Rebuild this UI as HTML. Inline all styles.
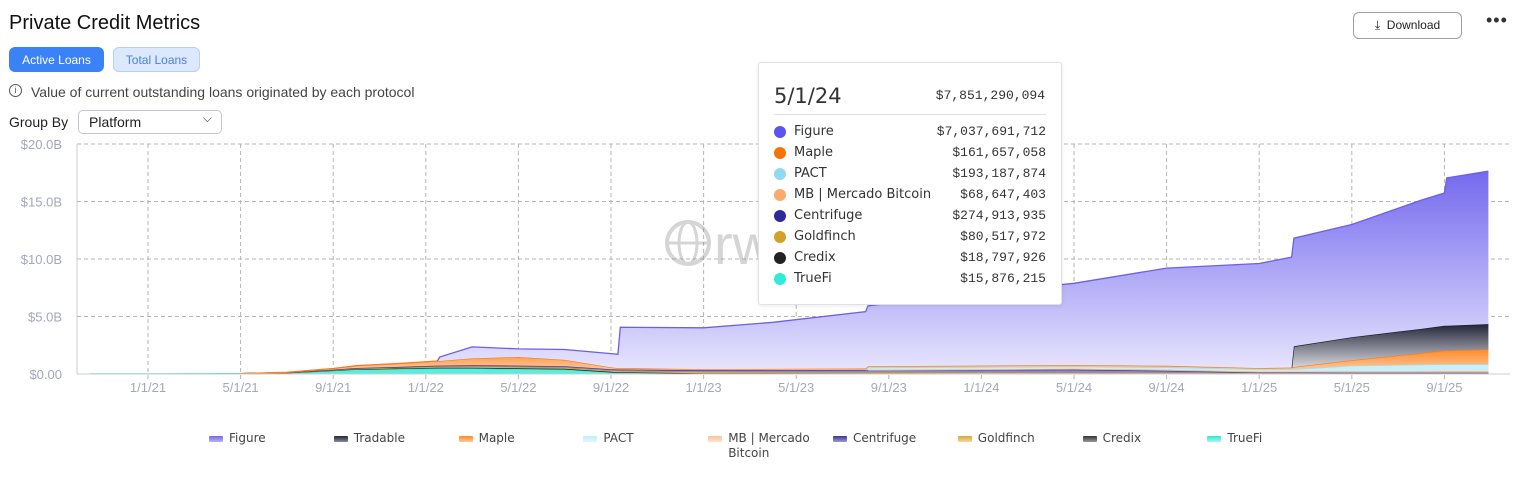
<!DOCTYPE html>
<html><head><meta charset="utf-8">
<style>
body{margin:0;width:1520px;height:484px;background:#fff;font-family:"Liberation Sans",sans-serif;position:relative;overflow:hidden}
.abs{position:absolute}
.btn{position:absolute;border-radius:6px;font-size:12px;display:flex;align-items:center;justify-content:center}
.tt-row{position:absolute;left:0;width:303px;height:21px;font-size:13px;color:#333}
.tt-dot{position:absolute;left:15px;top:4px;width:12px;height:12px;border-radius:50%}
.tt-lab{position:absolute;left:35px;top:2px;font-family:"DejaVu Sans",sans-serif;font-size:13px}
.tt-val{position:absolute;right:16px;top:2px;font-family:"Liberation Mono",monospace;font-size:13px}
.leg{position:absolute;top:431px;font-size:12px;color:#444;font-family:"DejaVu Sans",sans-serif}
.sw{position:absolute;left:0;top:5px;width:14px;height:6px;border-radius:1px}
.lt{position:absolute;left:20px;top:0;white-space:nowrap;line-height:15px}
</style></head><body>
<div class="abs" style="left:9px;top:12px;font-size:20px;color:#111">Private Credit Metrics</div>
<div class="btn" style="left:1353px;top:12px;width:107px;height:25px;border:1px solid #9aa0a8;color:#222;font-size:12px">⤓&nbsp; Download</div>
<div class="abs" style="left:1486px;top:10px;font-size:18px;color:#333;letter-spacing:1px">•••</div>
<div class="btn" style="left:9px;top:47px;width:95px;height:25px;background:#3b82f6;color:#fff">Active Loans</div>
<div class="btn" style="left:113px;top:47px;width:85px;height:23px;background:#dce8fb;border:1px solid #b9cff3;color:#4a80e2">Total Loans</div>
<div class="abs" style="left:9px;top:84px;width:11px;height:11px;border:1.3px solid #555;border-radius:50%;font-size:9px;line-height:11px;text-align:center;color:#555">i</div>
<div class="abs" style="left:31px;top:84px;font-size:14px;color:#444">Value of current outstanding loans originated by each protocol</div>
<div class="abs" style="left:9px;top:114px;font-size:14px;color:#222">Group By</div>
<div class="abs" style="left:78px;top:110px;width:142px;height:22px;border:1px solid #c5c8cf;border-radius:5px;font-size:14px;color:#222"><span style="position:absolute;left:10px;top:3px">Platform</span><span style="position:absolute;right:9px;top:0px;font-size:12px;color:#444">⌵</span></div>

<svg id="chart" class="abs" style="left:0;top:0" width="1520" height="484">
<defs>
<linearGradient id="gFig" x1="0" y1="0" x2="0" y2="1"><stop offset="0" stop-color="#7469ee"/><stop offset="1" stop-color="#e6e4fd"/></linearGradient>
<linearGradient id="gTrad" x1="0" y1="0" x2="0" y2="1"><stop offset="0" stop-color="#22253a"/><stop offset="1" stop-color="#d6d7dc"/></linearGradient>
<linearGradient id="gMap" x1="0" y1="0" x2="0" y2="1"><stop offset="0" stop-color="#ff8a2a"/><stop offset="1" stop-color="#ffd2ad"/></linearGradient>
</defs>
<g id="grid"></g>
<g id="areas"></g>
<g id="wm" opacity="0.35">
<circle cx="688" cy="243" r="21" fill="none" stroke="#888" stroke-width="4"/>
<ellipse cx="688" cy="243" rx="9" ry="21" fill="none" stroke="#888" stroke-width="3"/>
<line x1="667" y1="243" x2="709" y2="243" stroke="#888" stroke-width="3"/>
<text x="714" y="264" font-size="56" fill="#888" font-family="Liberation Sans">rwa</text>
</g>
<g id="axes"></g>
</svg>

<div class="abs" style="left:758px;top:62px;width:302px;height:241px;background:#fff;border:1px solid #dfe1e6;border-radius:3px;box-shadow:0 1px 4px rgba(0,0,0,0.08)">
<div class="abs" style="left:15px;top:21px;font-size:21px;color:#333;font-family:'DejaVu Sans',sans-serif">5/1/24</div>
<div class="abs" style="right:16px;top:25px;font-size:13px;color:#333;font-family:'Liberation Mono',monospace">$7,851,290,094</div>
<div class="abs" style="left:15px;top:51px;width:272px;height:1px;background:#dde0e8"></div>
<div id="ttrows"></div>
</div>

<div id="legend"></div>

<script>
const NS="http://www.w3.org/2000/svg";
// month index relative to Jan 2021
const months=[-2.5,0,4,6,8,9,11,12.5,12.6,14,16,18,20,20.3,20.4,24,27,31,31.1,36,40,44,48,49.4,49.5,52,55,56,56.1,57.9];
const truefi=[0.01,0.01,0.03,0.1,0.3,0.4,0.45,0.5,0.5,0.5,0.45,0.4,0.15,0.12,0.12,0.04,0.03,0.03,0.03,0.02,0.016,0.01,0.01,0.01,0.01,0.01,0.01,0.01,0.01,0.01];
const credix=[0,0,0,0.01,0.02,0.03,0.04,0.05,0.05,0.05,0.05,0.05,0.04,0.04,0.04,0.03,0.03,0.02,0.02,0.02,0.02,0.01,0.01,0.01,0.01,0.01,0.01,0.01,0.01,0.01];
const goldfinch=[0,0,0,0.01,0.03,0.04,0.06,0.08,0.08,0.09,0.1,0.1,0.1,0.1,0.1,0.1,0.1,0.09,0.09,0.08,0.08,0.07,0.06,0.06,0.06,0.05,0.05,0.05,0.05,0.05];
const centrifuge=[0,0,0,0.01,0.03,0.05,0.08,0.1,0.1,0.12,0.13,0.13,0.13,0.13,0.13,0.15,0.18,0.22,0.22,0.25,0.27,0.2,0.05,0.05,0.05,0.05,0.05,0.05,0.05,0.05];
const mb=[0,0,0,0,0,0,0,0,0,0,0,0,0,0,0,0,0,0,0,0.03,0.07,0.08,0.08,0.08,0.08,0.1,0.1,0.12,0.12,0.12];
const pact=[0,0,0,0,0,0,0,0,0,0,0,0,0,0,0,0,0,0,0.2,0.2,0.19,0.2,0.2,0.2,0.2,0.5,0.6,0.6,0.6,0.6];
const maple=[0,0,0,0.02,0.1,0.2,0.3,0.4,0.4,0.6,0.75,0.55,0.15,0.12,0.12,0.1,0.1,0.12,0.12,0.13,0.14,0.14,0.1,0.15,0.2,0.48,1.0,1.2,1.2,1.3];
const tradable=[0,0,0,0,0,0,0,0,0,0,0,0,0,0,0,0,0,0,0,0,0,0,0,0,1.8,2.0,2.1,2.15,2.15,2.2];
const figure=[0,0,0,0,0,0,0,0,0.35,1.0,0.7,0.9,1.2,1.2,3.55,3.6,4.06,4.95,5.25,6.35,7.1,8.5,9.1,9.6,9.4,9.8,11.2,11.55,12.85,13.3];
const yTicks=[0,5,10,15,20];
const yTickLabels=["$0.00","$5.0B","$10.0B","$15.0B","$20.0B"];
const xTicks=[0,4,8,12,16,20,24,28,32,36,40,44,48,52,56];
const xTickLabels=["1/1/21","5/1/21","9/1/21","1/1/22","5/1/22","9/1/22","1/1/23","5/1/23","9/1/23","1/1/24","5/1/24","9/1/24","1/1/25","5/1/25","9/1/25"];

const X=m=>148+m*23.15;
const Y=v=>374-v*11.5;
const L=77,R=1510;

const grid=document.getElementById('grid'),axes=document.getElementById('axes'),areas=document.getElementById('areas');
function mk(tag,attrs,parent){const e=document.createElementNS(NS,tag);for(const k in attrs)e.setAttribute(k,attrs[k]);parent.appendChild(e);return e;}
yTicks.forEach((v,i)=>{
  if(v>0){const l=mk('line',{x1:L,x2:R,y1:Y(v),y2:Y(v),stroke:'#b5b5b5','stroke-dasharray':'4,3'},grid);
  
  }
  const t=mk('text',{x:62,y:Y(v)+5,'text-anchor':'end','font-size':13,fill:'#a3a7ba','font-family':'Liberation Sans'},axes);
  t.textContent=yTickLabels[i];
  
  
});
xTicks.forEach((m,i)=>{
  const l=mk('line',{x1:X(m),x2:X(m),y1:144,y2:381,stroke:'#b5b5b5','stroke-dasharray':'4,3'},grid);
  
  
  const t=mk('text',{x:X(m),y:392,'text-anchor':'middle','font-size':13,fill:'#a3a7ba','font-family':'Liberation Sans'},axes);
  t.textContent=xTickLabels[i];
  
  
});
const ax1=mk('line',{x1:L,x2:L,y1:144,y2:374,stroke:'#ccc'},axes);


const ax2=mk('line',{x1:L,x2:R,y1:374,y2:374,stroke:'#ccc'},axes);



const series=[
 {name:'TrueFi',key:'truefi',data:truefi,fill:'#57eedd',stroke:'#2adfcc'},
 {name:'Credix',key:'credix',data:credix,fill:'#555',stroke:'#222'},
 {name:'Goldfinch',key:'goldfinch',data:goldfinch,fill:'#e7bf6a',stroke:'#d4a02a'},
 {name:'Centrifuge',key:'centrifuge',data:centrifuge,fill:'#8a86c8',stroke:'#3b3594'},
 {name:'MB | Mercado Bitcoin',key:'mb',data:mb,fill:'#fdd4b4',stroke:'#f9a86a'},
 {name:'PACT',key:'pact',data:pact,fill:'#c9f0fa',stroke:'#9fe0f2'},
 {name:'Maple',key:'maple',data:maple,fill:'url(#gMap)',stroke:'#f57c1f'},
 {name:'Tradable',key:'tradable',data:tradable,fill:'url(#gTrad)',stroke:'#1c1f30'},
 {name:'Figure',key:'figure',data:figure,fill:'url(#gFig)',stroke:'#6b60e6'}
];
let base=months.map(()=>0);
series.forEach(s=>{
  const top=base.map((b,i)=>b+s.data[i]);
  let d='';
  const idx=months.map((_,i)=>i).filter(i=>s.data[i]>0||(i>0&&s.data[i-1]>0)||(i<months.length-1&&s.data[i+1]>0));
  if(idx.length){
    idx.forEach((i,j)=>{d+=(j?'L':'M')+X(months[i]).toFixed(1)+','+Y(top[i]).toFixed(1);});
    const lineD=d;
    for(let j=idx.length-1;j>=0;j--){const i=idx[j];d+='L'+X(months[i]).toFixed(1)+','+Y(base[i]).toFixed(1);}
    d+='Z';
    const p=mk('path',{d:d,fill:s.fill,stroke:'none'},areas);
    
    
    const ln=mk('path',{d:lineD,fill:'none',stroke:s.stroke,'stroke-width':1.3},areas);
    
    
  }
  base=top;
});

// tooltip rows
const ttNames=["Figure","Maple","PACT","MB | Mercado Bitcoin","Centrifuge","Goldfinch","Credix","TrueFi"];
const ttVals=["$7,037,691,712","$161,657,058","$193,187,874","$68,647,403","$274,913,935","$80,517,972","$18,797,926","$15,876,215"];
const ttColors=["#5b55f0","#f57407","#8fdaf0","#fca96c","#2e2a96","#d3a12a","#222","#2eecd9"];
const tt=document.getElementById('ttrows');
ttNames.forEach((n,i)=>{
  const r=document.createElement('div');r.className='tt-row';r.style.top=(59+i*21)+'px';
  
  
  r.innerHTML='<div class="tt-dot" style="background:'+ttColors[i]+'"></div><div class="tt-lab"></div><div class="tt-val"></div>';
  r.children[1].textContent=n;r.children[2].textContent=ttVals[i];
  tt.appendChild(r);
});

// legend
const legNames=["Figure","Tradable","Maple","PACT","MB | Mercado Bitcoin","Centrifuge","Goldfinch","Credix","TrueFi"];
const legSw=["linear-gradient(#7469ee,#b9b4f7)","linear-gradient(#22253a,#8a8c98)","linear-gradient(#ff8a2a,#ffc89a)","linear-gradient(#bfeefa,#dff7fc)","linear-gradient(#fcc39a,#fde2cf)","linear-gradient(#3b3594,#9c99d4)","linear-gradient(#d9a53a,#f2d89c)","linear-gradient(#333,#999)","linear-gradient(#2de8d4,#a9f6ee)"];
const lg=document.getElementById('legend');
legNames.forEach((n,i)=>{
  const e=document.createElement('div');e.className='leg';e.style.left=(209+i*124.8)+'px';
  
  
  e.innerHTML='<div class="sw" style="background:'+legSw[i]+'"></div><div class="lt"></div>';
  e.children[1].innerHTML=n==="MB | Mercado Bitcoin"?"MB | Mercado<br>Bitcoin":n;
  lg.appendChild(e);
});
</script>
</body></html>
